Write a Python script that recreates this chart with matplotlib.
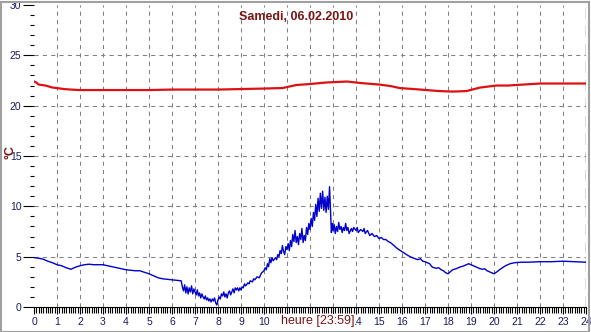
import matplotlib
matplotlib.use("Agg")
import matplotlib.pyplot as plt
from matplotlib.ticker import MultipleLocator
from matplotlib.patches import Rectangle

title = "Samedi, 06.02.2010"
xlabel = "heure [23:59]"
ylabel = "°C"
x_ticks = list(range(0, 25))
y_ticks = [0, 5, 10, 15, 20, 25, 30]

red_t = [0, 0.1, 0.2, 0.5, 0.8, 1.0, 1.3, 1.6, 2, 3, 4, 5, 6, 7, 8, 9, 10, 10.8, 11.4, 12,
         12.7, 13.6, 14.2, 15, 15.5, 15.9, 16.8, 17.6, 18.2, 18.8, 19.4, 20.1, 20.6, 21.3,
         22, 23, 24]
red_v = [22.4, 22.3, 22.1, 22.0, 21.8, 21.75, 21.65, 21.6, 21.55, 21.55, 21.55, 21.55, 21.6,
         21.6, 21.6, 21.65, 21.7, 21.75, 22.05, 22.15, 22.3, 22.4, 22.25, 22.1, 21.95, 21.75,
         21.6, 21.45, 21.4, 21.45, 21.8, 22.0, 22.0, 22.1, 22.2, 22.2, 22.2]

blue_t = [0, 0.2, 0.4, 0.6, 0.8, 1.0, 1.2, 1.4, 1.6, 1.8, 2.0, 2.2, 2.4, 2.6, 2.8, 3.0, 3.2,
          3.4, 3.6, 3.8, 4.0, 4.2, 4.4, 4.6, 4.8, 5.0, 5.2, 5.4, 5.6, 5.8, 6.0, 6.2, 6.4,
          6.45, 6.5, 6.55, 6.6, 6.65, 6.7, 6.75, 6.8, 6.85, 6.9, 6.95, 7.0, 7.05, 7.1, 7.15,
          7.2, 7.25, 7.3, 7.35, 7.4, 7.45, 7.5, 7.55, 7.6, 7.65, 7.7, 7.75, 7.8, 7.85, 7.9,
          7.95, 8.0, 8.05, 8.1, 8.15, 8.2, 8.25, 8.3, 8.35, 8.4, 8.45, 8.5, 8.55, 8.6, 8.65,
          8.7, 8.75, 8.8, 8.85, 8.9, 8.95, 9.0, 9.05, 9.1, 9.15, 9.2, 9.3, 9.35, 9.4, 9.5,
          9.55, 9.6, 9.7, 9.8, 9.85, 9.9, 10.0, 10.05, 10.1, 10.15, 10.2, 10.25, 10.3, 10.35,
          10.4, 10.5, 10.55, 10.6, 10.65, 10.7, 10.75, 10.8, 10.85, 10.9, 10.95, 11.0, 11.05,
          11.1, 11.15, 11.2, 11.25, 11.3, 11.35, 11.4, 11.45, 11.5, 11.55, 11.6, 11.65, 11.7,
          11.75, 11.8, 11.85, 11.9, 11.95, 12.0, 12.05, 12.1, 12.15, 12.2, 12.25, 12.3, 12.35,
          12.4, 12.45, 12.5, 12.55, 12.6, 12.65, 12.7, 12.75, 12.8, 12.85, 12.9, 12.93, 12.97,
          13.0, 13.05, 13.1, 13.15, 13.2, 13.25, 13.3, 13.35, 13.4, 13.45, 13.5, 13.55, 13.6,
          13.65, 13.7, 13.8, 13.85, 13.9, 14.0, 14.05, 14.1, 14.2, 14.3, 14.35, 14.4, 14.5,
          14.6, 14.7, 14.8, 14.9, 15.0, 15.1, 15.2, 15.3, 15.4, 15.5, 15.6, 15.7, 15.8, 15.9,
          16.0, 16.2, 16.35, 16.5, 16.7, 16.8, 16.9, 17.0, 17.2, 17.3, 17.4, 17.5, 17.6, 17.7,
          17.8, 17.9, 18.0, 18.1, 18.2, 18.35, 18.5, 18.7, 18.9, 19.0, 19.2, 19.4, 19.5, 19.6,
          19.7, 19.8, 19.9, 20.0, 20.1, 20.3, 20.5, 20.7, 20.9, 21.2, 21.5, 22.0, 22.5, 23.0,
          23.5, 24.0]
blue_v = [4.9, 4.85, 4.75, 4.55, 4.4, 4.2, 4.1, 3.9, 3.75, 3.95, 4.1, 4.2, 4.25, 4.2, 4.2, 4.2,
          4.1, 4.0, 3.9, 3.8, 3.7, 3.65, 3.6, 3.6, 3.45, 3.3, 3.1, 2.9, 2.8, 2.75, 2.7, 2.65,
          2.6, 2.0, 1.6, 2.2, 1.4, 2.0, 1.3, 1.9, 1.5, 2.1, 1.3, 1.8, 1.5, 1.2, 1.7, 1.1, 1.4,
          0.9, 1.3, 1.0, 0.8, 1.1, 0.7, 0.9, 0.6, 0.8, 0.5, 0.8, 0.6, 0.9, 0.4, 0.2, 0.7, 1.0,
          0.8, 1.3, 1.1, 1.5, 1.0, 1.3, 0.9, 1.4, 1.6, 1.2, 1.5, 1.8, 1.4, 1.9, 1.7, 1.9, 1.6,
          1.9, 1.7, 2.0, 1.9, 2.3, 2.1, 2.4, 2.3, 2.6, 2.5, 2.8, 2.7, 3.0, 2.9, 3.2, 3.4, 3.6,
          3.9, 3.7, 4.3, 4.0, 4.8, 4.4, 4.9, 4.6, 4.9, 4.7, 5.2, 5.0, 5.6, 5.3, 6.1, 5.5, 5.2,
          6.0, 5.7, 6.3, 5.6, 6.6, 6.0, 7.2, 6.5, 7.6, 6.4, 7.0, 6.2, 7.3, 6.7, 7.8, 6.4, 7.1,
          6.6, 7.9, 7.2, 8.3, 7.7, 8.8, 8.0, 9.4, 8.6, 10.2, 9.0, 10.8, 9.5, 11.3, 9.8, 11.5,
          9.6, 10.9, 9.4, 11.0, 9.7, 11.95, 9.0, 7.4, 8.3, 7.6, 8.2, 7.3, 8.0, 7.5, 8.4, 7.7,
          8.0, 7.4, 7.9, 7.6, 8.3, 7.6, 7.9, 7.3, 7.8, 7.5, 7.9, 7.6, 7.9, 7.4, 7.7, 7.5, 7.8,
          7.3, 7.6, 7.1, 7.3, 7.0, 7.1, 6.8, 6.9, 6.7, 6.7, 6.5, 6.4, 6.2, 6.0, 5.8, 5.65, 5.5,
          5.2, 5.0, 4.85, 4.7, 4.8, 4.55, 4.5, 4.3, 4.0, 3.9, 3.85, 3.9, 3.7, 3.6, 3.4, 3.3,
          3.5, 3.7, 3.8, 3.95, 4.1, 4.3, 4.2, 4.0, 3.8, 3.75, 3.8, 3.6, 3.5, 3.4, 3.3, 3.45,
          3.8, 4.1, 4.3, 4.4, 4.45, 4.45, 4.5, 4.5, 4.55, 4.5, 4.45]

W, H = 591, 332
fig = plt.figure(figsize=(W / 100, H / 100), dpi=100)
fig.patch.set_facecolor("white")
plt.rcParams['font.family'] = ['Liberation Sans', 'DejaVu Sans']

ax = fig.add_axes([34 / W, (H - 307) / H, (586 - 34) / W, (307 - 5) / H])
ax.set_xlim(0, 24)
ax.set_ylim(0, 30)

ax.grid(False)
for xv in x_ticks[1:-1]:
    ax.axvline(xv, color="#808080", lw=0.75, ls=(0, (4, 4)), zorder=1)
for yv in y_ticks[1:-1]:
    ax.axhline(yv, color="#808080", lw=0.75, ls=(0, (4, 4)), zorder=1)
ax.axvline(24, color="#107010", lw=1.0, ls=(0, (8, 5)), zorder=1)

ax.plot(red_t, red_v, color="#dd1111", lw=1.6, zorder=3)
ax.plot(blue_t, blue_v, color="#0000cc", lw=1.0, zorder=3)

for s in ["top", "right", "left"]:
    ax.spines[s].set_visible(False)
ax.spines["bottom"].set_color("black")
ax.spines["bottom"].set_linewidth(0.8)

ax.set_xticks(x_ticks)
ax.xaxis.set_minor_locator(MultipleLocator(0.1))
ax.set_yticks(y_ticks)
ax.yaxis.set_minor_locator(MultipleLocator(1))
navy = "#1a1a60"
ax.tick_params(axis="x", which="major", direction="out", length=5, width=0.8, color="black",
               labelsize=7.5, labelcolor=navy, pad=2)
ax.tick_params(axis="x", which="minor", direction="out", length=4, width=0.8, color="black")
ax.tick_params(axis="y", which="major", direction="out", length=8, width=0.8, color="black",
               labelsize=7.5, labelcolor=navy, pad=1)
ax.tick_params(axis="y", which="minor", direction="out", length=3, width=0.8, color="black")

maroon = "#7a1515"
fig.text(296 / W, 1 - 17 / H, title, ha="center", va="center", fontsize=9,
         fontweight="bold", color=maroon)
fig.text(318 / W, 1 - 321 / H, xlabel, ha="center", va="center", fontsize=9, color=maroon,
         zorder=10, bbox=dict(facecolor="white", edgecolor="none", pad=0.5))
fig.text(10 / W, 1 - 152 / H, ylabel, ha="center", va="center", fontsize=9,
         fontweight="bold", color=maroon, rotation=90)

fig.patches.append(Rectangle((0.5 / W, 0.5 / H), (W - 2.5) / W, (H - 2.5) / H,
                             transform=fig.transFigure, fill=False, edgecolor="#a0a0a0",
                             lw=1.5))

fig.savefig("out.png", dpi=100)
